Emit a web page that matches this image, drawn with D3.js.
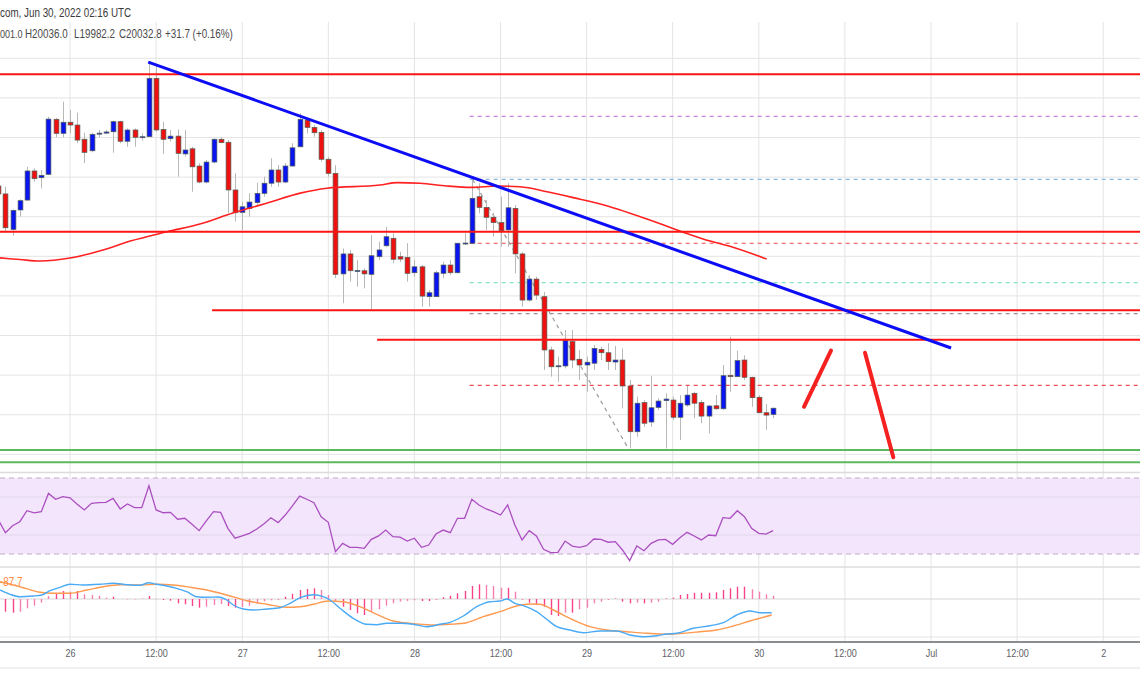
<!DOCTYPE html>
<html><head><meta charset="utf-8">
<script src="https://cdn.jsdelivr.net/npm/d3@7"></script>
<style>
html,body{margin:0;padding:0;background:#fff;overflow:hidden}
svg{display:block}
</style></head>
<body>
<svg id="chart" width="1140" height="694"></svg>
<script>
// ---------------- DATA ----------------
const firstHour = -10; // hours relative to Jun 26 00:00 UTC
const candleOpen = [21155,21115,20936,21034,21084,21231,21197,21214,21492,21421,
21477,21463,21391,21333,21421,21422,21429,21480,21381,21438,21402,21404,21699,21441,21394,21407,21317,21343,21256,21175,
21276,21391,21376,21135,21022,21042,21071,21118,21169,21236,21175,21256,21353,21488,21451,21426,21290,21219,20711,20812,
20727,20727,20709,20798,20853,20891,20798,20795,20717,20747,20596,20596,20714,20756,20717,20866,20866,21101,21047,20997,
20970,20933,21042,20812,20579,20685,20596,20327,20246,20246,20369,20280,20251,20260,20330,20313,20266,20276,20145,19914,
20061,19963,20037,20071,20074,19987,20049,20108,20061,19993,20045,20030,20199,20192,20276,20189,20088,20010,20001];
const candleHigh = [21165,21151,21037,21088,21252,21244,21236,21505,21498,21581,
21539,21525,21424,21424,21438,21438,21485,21485,21446,21446,21421,21783,21766,21480,21438,21441,21438,21353,21270,21286,
21396,21401,21387,21219,21076,21118,21172,21202,21295,21261,21270,21371,21522,21497,21463,21438,21303,21260,20840,20832,
20781,20739,20907,20874,20949,20916,20823,20866,20781,20756,20630,20727,20773,20781,20866,20916,21185,21169,21084,21019,
21101,21169,21059,20823,20705,20697,20620,20343,20293,20428,20428,20327,20293,20352,20343,20361,20347,20335,20175,20091,
20074,20195,20083,20108,20091,20099,20145,20116,20074,20049,20099,20251,20394,20323,20300,20192,20099,20054,20036];
const candleLow = [21105,20918,20904,21000,21082,21177,21143,21210,21401,21401,
21421,21371,21270,21325,21401,21417,21323,21371,21353,21353,21384,21401,21429,21317,21379,21202,21303,21126,21169,21169,
21270,21371,21017,20975,20933,21000,21050,21101,21151,21151,21169,21252,21353,21421,21404,21278,21202,20690,20563,20672,
20646,20638,20529,20781,20848,20765,20770,20672,20697,20545,20545,20596,20689,20705,20714,20857,20866,21017,20933,20899,
20848,20848,20714,20545,20571,20579,20226,20192,20167,20234,20234,20175,20116,20226,20276,20226,20226,20032,19830,19889,
19939,19939,20024,19830,19973,19872,20040,19982,19957,19906,20024,20024,20116,20192,20175,20040,20007,19923,19982.2];
const candleClose = [21115,20944,21032,21081,21231,21192,21209,21493,21421,21477,
21463,21387,21325,21416,21422,21428,21480,21381,21438,21401,21404,21699,21438,21391,21407,21320,21337,21252,21175,21276,
21391,21374,21135,21020,21050,21074,21118,21169,21236,21175,21256,21348,21492,21451,21424,21290,21219,20709,20812,20727,
20728,20711,20803,20832,20899,20785,20786,20714,20747,20599,20616,20717,20756,20717,20866,20867,21093,21047,20997,20970,
20929,21045,20812,20579,20685,20604,20327,20242,20247,20374,20276,20251,20265,20335,20313,20268,20276,20145,19914,20058,
19957,20035,20069,20079,19987,20058,20099,20058,19993,20044,20030,20197,20192,20273,20189,20086,20010,19998,20032.8];

// moving average (red curve)
const maHours  = [-9.8,-7,-4.2,0,4.6,8.4,13.5,18.1,22.7,27.5,32.1,35.8,43.2,45.6,48.8,52.5,56,59.5,62.7,66.5,71.1,73.9,80.8,85,89.2,92.4,97.1];
const maValues = [20792,20784,20776,20791,20832,20877,20924,20963,21019,21069,21119,21144,21160,21172,21169,21155,21148,21155,21151,21126,21088,21064,20983,20928,20877,20846,20786];

// RSI (one value per candle from hour -10)
const rsiValues = [48,41.2,44.9,47.0,52.8,51.7,52.3,61.9,58.8,60.2,
59.6,56.2,53.2,56.7,57.0,57.2,59.3,53.7,56.3,54.4,54.4,65.9,53.2,51.7,51.9,48.3,48.8,45.6,42.3,47.4,
52.3,51.9,43.5,38.3,39.5,40.9,43.0,45.8,49.1,46.5,50.5,55.3,60.5,58.8,57.0,49.6,46.7,31.2,35.6,33.5,
33.5,33.0,37.7,39.5,42.6,39.1,38.9,36.8,38.3,33.5,34.7,40.5,42.6,41.2,48.8,48.8,58.8,55.8,53.7,52.3,
50.5,55.8,45.3,37.4,42.3,39.5,32.5,30.7,30.9,36.8,34.2,33.5,34.4,37.9,37.7,36.2,36.5,32.1,26.5,34.2,
31.7,35.6,37.4,37.7,35.1,38.6,41.4,39.5,37.4,40.0,39.6,49.1,48.8,52.8,49.6,43.5,40.9,40.5,42.3];

// MACD line, signal line, histogram
const macdHours  = [-9.76,-8.36,-6.97,-5.16,-3.94,-2.79,-1.39,0,1.81,4.18,5.99,7.94,9.76,10.97,12.08,13.48,14.87,16.26,17.66,19.05,20.67,21.84,22.76,24.15,25.55,27.41,29.27,30.66,32.06,33.91,35.3,36.24,37.63,39.48,41.35,42.75,44.14,45.99,47.85,49.71,51.57,52.96,54.82,56.68,58.54,59.93,60.86,62.02,63.18,65.04,66.44,67.83,69.69,71.54,73.87,76.19,78.05,79.9,81.77,83.16,84.56,86.87,89.2,91.05,92.92,94.77,96.17,97.8];
const macdValues = [45,23.5,11.5,15,20,41.5,58.5,73.5,70,73.5,78.5,71.5,68.5,81.5,73.5,65,53.5,36.5,11.5,8.5,10,-5,-30,-50,-55,-50,-43.5,-21.5,6.5,21.5,11.5,-5,-46.5,-96.5,-126.5,-128.5,-121.5,-121.5,-126.5,-138.5,-126.5,-116.5,-85,-38.5,-13.5,-10,0,-21.5,-33.5,-63.5,-101.5,-138.5,-155,-168.5,-160,-160,-180,-188.5,-183.5,-175,-171.5,-146.5,-133.5,-118.5,-80,-60,-68.5,-68.5];
const signalHours  = [-9.76,-6.97,-4.18,-2.33,0,2.33,4.64,6.97,9.76,12.08,14.4,16.72,19.05,21.84,24.63,27.41,30.2,32.06,33.91,36.0,38.09,40.42,42.75,45.06,46,48.32,50.63,52.96,55.29,57.6,59.93,62.26,64.11,65.51,67.36,70.15,72.47,74.8,77.59,80.38,83.16,85.48,87.8,90.13,92.45,94.77,97.8];
const signalValues = [86.5,61.5,33.5,28.5,28.5,45,61.5,71.5,70,73.5,70,58.5,45,20,-8.5,-26.5,-41.5,-38.5,-26.5,-10,-13.5,-38.5,-76.5,-110,-116,-125,-130,-126.5,-118.5,-88.5,-63.5,-35,-25,-26.5,-55,-105,-138.5,-155,-163.5,-171.5,-176.5,-171.5,-163.5,-155,-135,-110,-80];
const histFirstHour = -9;
const histValues = [-63.5,-68.5,-63.5,-46.5,-33.5,-18.5,15,28.5,40,
36.5,40,23.5,20,16.5,6.5,11.5,0,-1.5,-1.5,1.5,15,-1.5,-5,-8.5,-21.5,-26.5,-35,-43.5,-38.5,
-30,-25,-35,-43.5,-40,-33.5,-21.5,-11.5,-6.5,-5,11.5,26.5,45,50,53.5,45,20,-13.5,-38.5,-55,
-71.5,-80,-63.5,-51.5,-33.5,-21.5,-13,-10,-6.5,-10,-10,-5,8.5,16.5,28.5,40,65,73.5,70,65,
56.5,56.5,36.5,-5,-18.5,-25,-38.5,-80,-85,-68.5,-68.5,-51.5,-43.5,-21.5,-13.5,-5,3.5,-13.5,-21.5,-18.5,
-21.5,-18.5,-13.5,5,6.5,20,25,31.5,31.5,31.5,33.5,45,53.5,61.5,61.5,48.5,36.5,23.5,16.5];

// drawings
const resistanceLevels = [21719, 20924];           // full-width red lines
const partialLevels = [{p:20527, from:19.8},{p:20379, from:42.8}];
const supportLevels = [19822, 19760];              // green lines
const fibLevels = [21507, 21189, 20866, 20667, 20510, 20148];
const fibColors = ["#c97ee0","#86bde3","#e8504f","#86e3c6","#a48a98","#e8504f"];
const fibStartHour = 55.7;
const fibDiagonal = [[56.1,21189],[77.8,19830]];
const trendLine = [[10.9,21781],[122.8,20337]];
const projection = [[[102.3,20040],[106.06,20324]],[[110.8,20313],[114.75,19785]]];

const timeTicks = [0,12,24,36,48,60,72,84,96,108,120,132,144];
const timeLabels = ["26","12:00","27","12:00","28","12:00","29","12:00","30","12:00","Jul","12:00","2"];
const priceGrid = [19800,20000,20200,20400,20600,20800,21000,21200,21400,21600,21800];
const rsiGrid = [40,60];
const headerTitle = "com, Jun 30, 2022 02:16 UTC";
const headerValues = ["001.0","H20036.0","L19982.2","C20032.8","+31.7 (+0.16%)"];
const macdLabel = "-87.7";

// ---------------- CHART ----------------
const W = 1140;
const NARROW = 0.82;   // horizontal squeeze to mimic a condensed UI font
const FONT = "'Liberation Sans Narrow','Liberation Sans',Arial,sans-serif";
const svg = d3.select("#chart");
const x = d3.scaleLinear().domain([0,144]).range([70,1103.2]);
const y = d3.scaleLinear().domain([19800,21800]).range([454.3,58.3]);
const yR = d3.scaleLinear().domain([30,70]).range([554,478]);
const yM = d3.scaleLinear().domain([-190,0]).range([637,599]);
const MAIN_TOP = 22, MAIN_BOT = 472.5, RSI_BOT = 567, MACD_BOT = 642;

const defs = svg.append("defs");
defs.append("clipPath").attr("id","mainClip").append("rect").attr("x",0).attr("y",MAIN_TOP).attr("width",W).attr("height",MAIN_BOT-MAIN_TOP);
defs.append("clipPath").attr("id","rsiClip").append("rect").attr("x",0).attr("y",MAIN_BOT).attr("width",W).attr("height",RSI_BOT-MAIN_BOT);
defs.append("clipPath").attr("id","macdClip").append("rect").attr("x",0).attr("y",RSI_BOT).attr("width",W).attr("height",MACD_BOT-RSI_BOT);

const gridColor = "#e4e4e4";
// vertical grid
svg.append("g").selectAll("line").data(timeTicks).join("line")
  .attr("x1",d=>x(d)).attr("x2",d=>x(d)).attr("y1",MAIN_TOP).attr("y2",MACD_BOT)
  .attr("stroke",gridColor).attr("stroke-width",1);

// main pane
const main = svg.append("g").attr("clip-path","url(#mainClip)");
main.append("g").selectAll("line").data(priceGrid).join("line")
  .attr("x1",0).attr("x2",W).attr("y1",d=>y(d)).attr("y2",d=>y(d))
  .attr("stroke",gridColor).attr("stroke-width",1);

// fib dashed levels
main.append("g").selectAll("line").data(fibLevels).join("line")
  .attr("x1",x(fibStartHour)).attr("x2",W).attr("y1",d=>y(d)).attr("y2",d=>y(d))
  .attr("stroke",(d,i)=>fibColors[i]).attr("stroke-width",1.2).attr("stroke-dasharray","4,4");
main.append("line")
  .attr("x1",x(fibDiagonal[0][0])).attr("y1",y(fibDiagonal[0][1]))
  .attr("x2",x(fibDiagonal[1][0])).attr("y2",y(fibDiagonal[1][1]))
  .attr("stroke","#9a9a9a").attr("stroke-width",1.2).attr("stroke-dasharray","4,4");

// candles
const candles = candleOpen.map((o,i)=>({h:firstHour+i,o,hi:candleHigh[i],lo:candleLow[i],c:candleClose[i]}));
const cg = main.append("g");
cg.selectAll("line.wick").data(candles).join("line").attr("class","wick")
  .attr("x1",d=>Math.round(x(d.h))+0.5).attr("x2",d=>Math.round(x(d.h))+0.5)
  .attr("y1",d=>y(d.hi)).attr("y2",d=>y(d.lo))
  .attr("stroke","#b7b9b7").attr("stroke-width",1);
cg.selectAll("rect").data(candles).join("rect")
  .attr("x",d=>Math.round(x(d.h))+0.5-2.4).attr("width",4.8)
  .attr("y",d=>y(Math.max(d.o,d.c)))
  .attr("height",d=>Math.max(1,Math.abs(y(d.o)-y(d.c))))
  .attr("fill",d=>d.c>=d.o?"#0a14f0":"#f01010")
  .attr("stroke","#4f5e55").attr("stroke-width",0.7);

// moving average
main.append("path")
  .attr("d",d3.line().x((d,i)=>x(maHours[i])).y(d=>y(d)).curve(d3.curveMonotoneX)(maValues))
  .attr("fill","none").attr("stroke","#ff2020").attr("stroke-width",1.6);

// red horizontal levels
main.append("g").selectAll("line").data(resistanceLevels).join("line")
  .attr("x1",0).attr("x2",W).attr("y1",d=>y(d)).attr("y2",d=>y(d))
  .attr("stroke","#ff1414").attr("stroke-width",2);
main.append("g").selectAll("line").data(partialLevels).join("line")
  .attr("x1",d=>x(d.from)).attr("x2",W).attr("y1",d=>y(d.p)).attr("y2",d=>y(d.p))
  .attr("stroke","#ff1414").attr("stroke-width",2);
main.append("g").selectAll("line").data(supportLevels).join("line")
  .attr("x1",0).attr("x2",W).attr("y1",d=>y(d)).attr("y2",d=>y(d))
  .attr("stroke","#5cb85c").attr("stroke-width",2);

// trend line
main.append("line")
  .attr("x1",x(trendLine[0][0])).attr("y1",y(trendLine[0][1]))
  .attr("x2",x(trendLine[1][0])).attr("y2",y(trendLine[1][1]))
  .attr("stroke","#0c0cf5").attr("stroke-width",3);
// projection strokes
main.append("g").selectAll("line").data(projection).join("line")
  .attr("x1",d=>x(d[0][0])).attr("y1",d=>y(d[0][1]))
  .attr("x2",d=>x(d[1][0])).attr("y2",d=>y(d[1][1]))
  .attr("stroke","#f52020").attr("stroke-width",4).attr("stroke-linecap","round");

// pane separators
svg.append("line").attr("x1",0).attr("x2",W).attr("y1",MAIN_BOT).attr("y2",MAIN_BOT).attr("stroke","#dcdcdc").attr("stroke-width",1.5);
svg.append("line").attr("x1",0).attr("x2",W).attr("y1",RSI_BOT).attr("y2",RSI_BOT).attr("stroke","#dcdcdc").attr("stroke-width",1.5);

// RSI pane
const rsi = svg.append("g").attr("clip-path","url(#rsiClip)");
rsi.append("rect").attr("x",0).attr("width",W).attr("y",yR(70)).attr("height",yR(30)-yR(70)).attr("fill","#f3e6fc");
rsi.append("g").selectAll("line").data(rsiGrid).join("line")
  .attr("x1",0).attr("x2",W).attr("y1",d=>yR(d)).attr("y2",d=>yR(d)).attr("stroke","#e0d6e8").attr("stroke-width",1);
rsi.append("g").selectAll("line").data([70,30]).join("line")
  .attr("x1",0).attr("x2",W).attr("y1",d=>yR(d)).attr("y2",d=>yR(d))
  .attr("stroke","#bcaec6").attr("stroke-width",1).attr("stroke-dasharray","5,4");
rsi.append("path")
  .attr("d",d3.line().x((d,i)=>x(firstHour+i)).y(d=>yR(d))(rsiValues))
  .attr("fill","none").attr("stroke","#ab4fc0").attr("stroke-width",1.3);

// MACD pane
const macd = svg.append("g").attr("clip-path","url(#macdClip)");
macd.append("line").attr("x1",0).attr("x2",W).attr("y1",yM(-190)).attr("y2",yM(-190)).attr("stroke",gridColor);
macd.append("line").attr("x1",0).attr("x2",W).attr("y1",yM(0)).attr("y2",yM(0)).attr("stroke","#d6d6d6");
macd.append("g").selectAll("line").data(histValues).join("line")
  .attr("x1",(d,i)=>Math.round(x(histFirstHour+i))+0.5).attr("x2",(d,i)=>Math.round(x(histFirstHour+i))+0.5)
  .attr("y1",yM(0)).attr("y2",d=>yM(d))
  .attr("stroke",(d,i)=>{const p=i>0?histValues[i-1]:d; return Math.abs(d)>=Math.abs(p)?"#f7438a":"#f77fb0";})
  .attr("stroke-width",1.4);
macd.append("path")
  .attr("d",d3.line().x((d,i)=>x(signalHours[i])).y(d=>yM(d)).curve(d3.curveMonotoneX)(signalValues))
  .attr("fill","none").attr("stroke","#ff9a50").attr("stroke-width",1.4);
macd.append("path")
  .attr("d",d3.line().x((d,i)=>x(macdHours[i])).y(d=>yM(d)).curve(d3.curveMonotoneX)(macdValues))
  .attr("fill","none").attr("stroke","#4aaaf5").attr("stroke-width",1.4);
macd.append("text").attr("transform",`translate(0,${yM(86.5)+4}) scale(${NARROW},1)`).text(macdLabel)
  .attr("fill","#ff8a3d").attr("font-family",FONT).attr("font-size",12);

// time axis
svg.append("line").attr("x1",0).attr("x2",W).attr("y1",MACD_BOT).attr("y2",MACD_BOT).attr("stroke","#8a8d90").attr("stroke-width",2);
const axis = svg.append("g").attr("transform",`translate(0,${MACD_BOT})`)
  .call(d3.axisBottom(x).tickValues(timeTicks).tickFormat((d,i)=>timeLabels[i]).tickSize(0).tickPadding(7));
axis.select(".domain").remove();
axis.selectAll("text").attr("fill","#5d6066").attr("font-size",11)
  .attr("font-family",FONT).attr("transform",`scale(${NARROW},1)`);
svg.append("line").attr("x1",0).attr("x2",W).attr("y1",668).attr("y2",668).attr("stroke","#ececec").attr("stroke-width",1.5);

// header
svg.append("text").attr("transform",`translate(0,16.5) scale(${NARROW},1)`).text(headerTitle)
  .attr("fill","#3a3a3a").attr("font-size",12).attr("font-family",FONT);
const hx = [0,25,74,119,165];
svg.append("g").selectAll("text").data(headerValues).join("text")
  .attr("transform",(d,i)=>`translate(${hx[i]},37.5) scale(${NARROW},1)`).text(d=>d)
  .attr("fill","#4a4a4a").attr("font-size",(d,i)=>i===0?11:12).attr("font-family",FONT);
</script>
</body></html>
